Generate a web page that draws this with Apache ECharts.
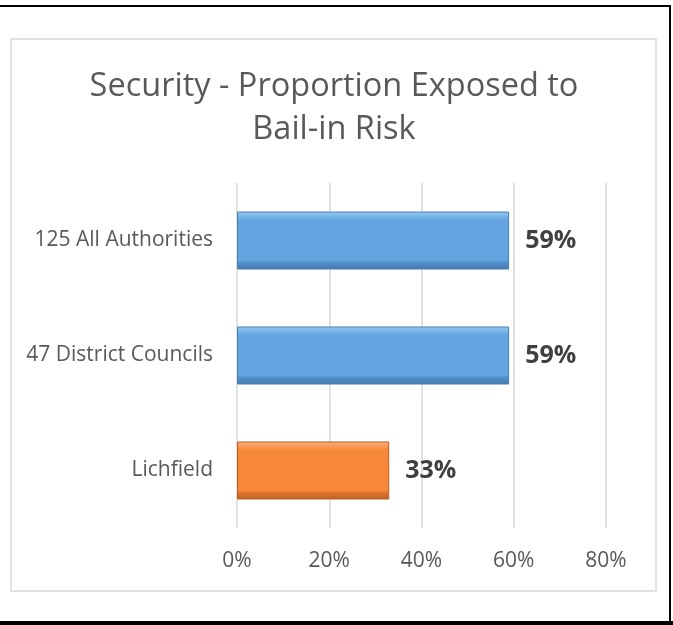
<!DOCTYPE html>
<html>
<head>
<meta charset="utf-8">
<script src="https://cdn.jsdelivr.net/npm/echarts@6/dist/echarts.min.js"></script>
<style>
html,body{margin:0;padding:0;background:#fff;}
#chart{width:673px;height:625px;}
</style>
</head>
<body>
<div id="chart"></div>
<script>
const titleText = "Security - Proportion Exposed to\nBail-in Risk";
const categories = ["125 All Authorities", "47 District Councils", "Lichfield"];
const values = [59, 59, 33];
const xTicks = [0, 20, 40, 60, 80];

const FONT = "Open Sans";

function bevel(light, mid, dark, darker) {
  return new echarts.graphic.LinearGradient(0, 0, 0, 1, [
    {offset: 0, color: light},
    {offset: 0.15, color: mid},
    {offset: 0.85, color: mid},
    {offset: 0.88, color: dark},
    {offset: 1, color: darker}
  ]);
}
const blueFill = bevel('#94c9f2', '#63a3df', '#5290cc', '#4479ad');
const orangeFill = bevel('#fdb07a', '#f7883a', '#dc742e', '#bf6224');
const fills = [blueFill, blueFill, orangeFill];
const borders = ['#4a7fb3', '#4a7fb3', '#b85f22'];

const chart = echarts.init(document.getElementById('chart'), null, {renderer: 'canvas'});
chart.setOption({
  animation: false,
  backgroundColor: '#ffffff',
  title: {
    text: titleText,
    left: 329,
    top: 60,
    textAlign: 'center',
    textStyle: {fontFamily: FONT, fontSize: 32.5, fontWeight: 'normal', color: '#595959', lineHeight: 43}
  },
  graphic: [
    {type: 'rect', shape: {x: 11, y: 39, width: 645, height: 552}, style: {fill: 'none', stroke: '#d9d9d9', lineWidth: 1.5}, silent: true},
    {type: 'rect', shape: {x: 0, y: 5, width: 671, height: 2}, style: {fill: '#000'}, silent: true},
    {type: 'rect', shape: {x: 669, y: 5, width: 2, height: 620}, style: {fill: '#000'}, silent: true},
    {type: 'rect', shape: {x: 0, y: 621, width: 673, height: 4}, style: {fill: '#000'}, silent: true}
  ],
  grid: {left: 237, right: 67, top: 183, bottom: 97, containLabel: false},
  xAxis: {
    type: 'value',
    min: xTicks[0],
    max: xTicks[xTicks.length - 1],
    interval: xTicks[1] - xTicks[0],
    axisLine: {show: false},
    axisTick: {show: false},
    splitLine: {show: true, lineStyle: {color: '#d9d9d9', width: 1.5}},
    axisLabel: {formatter: '{value}%', fontFamily: FONT, fontSize: 21, color: '#595959', margin: 23}
  },
  yAxis: {
    type: 'category',
    data: categories,
    inverse: true,
    axisLine: {show: false},
    axisTick: {show: false},
    axisLabel: {fontFamily: FONT, fontSize: 21, color: '#595959', margin: 24, padding: [4, 0, 0, 0]}
  },
  series: [{
    type: 'bar',
    barWidth: 58,
    data: values.map((v, i) => ({value: v, itemStyle: {color: fills[i], borderColor: borders[i], borderWidth: 1}})),
    label: {
      show: true,
      position: 'right',
      distance: 16,
      formatter: '{c}%',
      fontFamily: FONT,
      fontSize: 25,
      fontWeight: 'bold',
      color: '#404040',
      padding: [3, 0, 0, 0]
    }
  }]
});
</script>
</body>
</html>
